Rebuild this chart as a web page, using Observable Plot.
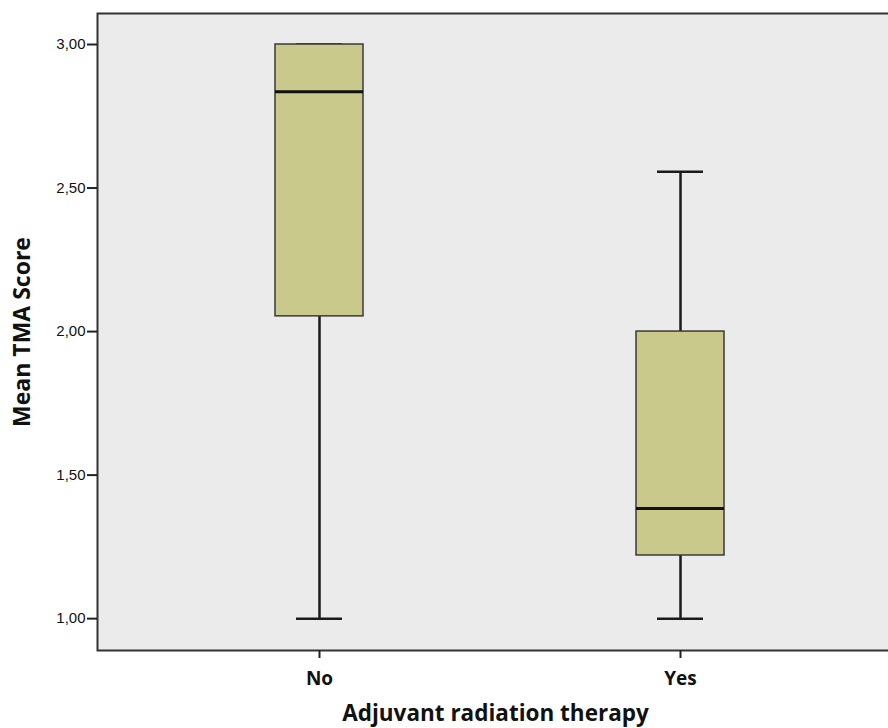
<!DOCTYPE html>
<html>
<head>
<meta charset="utf-8">
<script src="https://cdn.jsdelivr.net/npm/d3@7"></script>
<script src="https://cdn.jsdelivr.net/npm/@observablehq/plot@0.6"></script>
<style>
  html, body { margin: 0; padding: 0; background: #fff; overflow: hidden; }
</style>
</head>
<body>
<div id="chart"></div>
<script>
const groups = ["No", "Yes"];
const mins = [1.00, 1.00];
const q1s = [2.053, 1.22];
const medians = [2.835, 1.384];
const q3s = [3.00, 2.00];
const maxs = [3.00, 2.557];
const yTicks = [1.0, 1.5, 2.0, 2.5, 3.0];
const xTitle = "Adjuvant radiation therapy";
const yTitle = "Mean TMA Score";

const data = groups.map((g, i) => ({group: g, min: mins[i], q1: q1s[i], median: medians[i], q3: q3s[i], max: maxs[i]}));
const fmt = d => d.toFixed(2).replace(".", ",");
const boldFont = "'Open Sans', 'Liberation Sans', sans-serif";

const chart = Plot.plot({
  width: 888,
  height: 728,
  marginTop: 13,
  marginBottom: 78,
  marginLeft: 97,
  marginRight: -13,
  style: {background: "white", overflow: "hidden", fontFamily: "'Liberation Sans', Arial, sans-serif", color: "#111"},
  x: {domain: groups, paddingInner: 0.757, paddingOuter: 0.489, axis: null},
  y: {domain: [0.889, 3.108], axis: null},
  marks: [
    Plot.frame({fill: "#ebebeb"}),
    Plot.ruleX(data, {x: "group", y1: "min", y2: "q1", stroke: "#1a1a1a", strokeWidth: 2.5}),
    Plot.ruleX(data, {x: "group", y1: "q3", y2: "max", stroke: "#1a1a1a", strokeWidth: 2.5}),
    Plot.tickY(data, {x: "group", y: "min", inset: 21, stroke: "#1a1a1a", strokeWidth: 2.5}),
    Plot.tickY(data, {x: "group", y: "max", inset: 21, stroke: "#1a1a1a", strokeWidth: 2.5}),
    Plot.barY(data, {x: "group", y1: "q1", y2: "q3", fill: "#c8c98b", stroke: "#3a3a3a", strokeWidth: 1.5}),
    Plot.tickY(data, {x: "group", y: "median", stroke: "#111", strokeWidth: 3}),
    Plot.frame({stroke: "#333", strokeWidth: 2}),
    Plot.axisY({ticks: yTicks, tickFormat: fmt, tickSize: 10, tickPadding: 2, fontSize: 15, label: null, stroke: "#222", strokeWidth: 2}),
    Plot.axisX({tickSize: 8, tickPadding: 13, fontSize: 19, fontWeight: "bold", fontFamily: boldFont, label: null, stroke: "#222", strokeWidth: 2}),
    Plot.text([yTitle], {text: d => d, frameAnchor: "left", textAnchor: "middle", lineAnchor: "middle", rotate: -90, dx: -75, fontSize: 23, fontWeight: "bold", fontFamily: boldFont, fill: "#111"}),
    Plot.text([xTitle], {text: d => d, frameAnchor: "bottom", textAnchor: "middle", lineAnchor: "middle", dy: 63, dx: -4, fontSize: 22.5, fontWeight: "bold", fontFamily: boldFont, fill: "#111"})
  ]
});
document.getElementById("chart").append(chart);
</script>
</body>
</html>
